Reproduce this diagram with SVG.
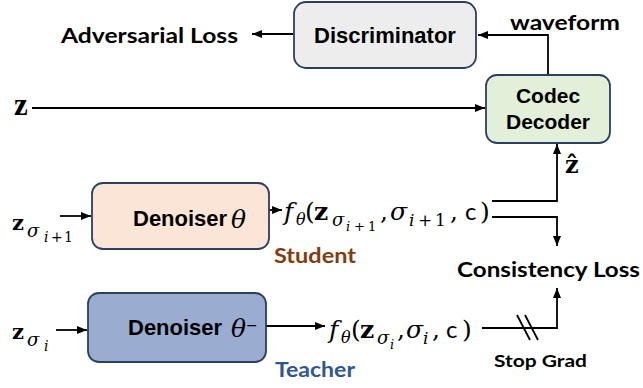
<svg xmlns="http://www.w3.org/2000/svg" width="643" height="388" viewBox="0 0 643 388">
<style>
.box{stroke:#2b3f63;stroke-width:1.8}
.lbl{font-family:"Liberation Sans",Arial,sans-serif;font-weight:bold;fill:#000}
.cal{font-family:Lato,"Open Sans",sans-serif;font-weight:bold;fill:#000}
.math{font-family:"DejaVu Serif","Liberation Serif",serif;fill:#000}
.sans{font-family:Lato,"Open Sans",sans-serif}
.it{font-style:italic}
.bf{font-weight:bold}
.wire{fill:none;stroke:#000;stroke-width:1.8}
.arr{marker-end:url(#ah)}
</style>
<defs>
<marker id="ah" viewBox="0 0 10 8" markerWidth="10" markerHeight="8" refX="10" refY="4" orient="auto" markerUnits="userSpaceOnUse">
<path d="M0,0 L10,4 L0,8 Z" fill="#000"/>
</marker>
</defs>
<rect width="643" height="388" fill="#fff"/>

<g id="connectors">
<path class="wire arr" d="M293 34 H252"/>
<path class="wire arr" d="M548 75 V35 H478"/>
<path class="wire arr" d="M32 108 H485"/>
<path class="wire arr" d="M60 216 H91"/>
<path class="wire arr" d="M269 210 H282"/>
<path class="wire arr" d="M492 201 H557 V144"/>
<path class="wire arr" d="M492 217 H557 V246"/>
<path class="wire arr" d="M56 330 H87"/>
<path class="wire arr" d="M266 326 H325"/>
<path class="wire arr" d="M482 328 H557 V288"/>
<path class="wire" d="M517 315 L530 340 M525 315 L538 340"/>
</g>

<g id="discriminator">
<rect class="box" x="294" y="2" width="182" height="66" rx="12" fill="#ededed"/>
<text class="lbl" x="385" y="43" font-size="22" text-anchor="middle">Discriminator</text>
</g>

<g id="adversarial-loss">
<text class="cal" x="61" y="43" font-size="20" textLength="177" lengthAdjust="spacingAndGlyphs">Adversarial Loss</text>
</g>

<g id="waveform-label">
<text class="cal" x="510" y="30" font-size="20" textLength="110" lengthAdjust="spacingAndGlyphs">waveform</text>
</g>

<g id="codec-decoder">
<rect class="box" x="486" y="75" width="124" height="68" rx="11" fill="#e2efd9"/>
<text class="lbl" x="548" y="103" font-size="21" text-anchor="middle">Codec</text>
<text class="lbl" x="548" y="129" font-size="21" text-anchor="middle">Decoder</text>
</g>

<g id="z-input">
<text class="bf" x="14" y="115" font-size="31" font-family="Liberation Serif, serif">z</text>
</g>

<g id="zhat-label">
<text class="math bf" x="565" y="173" font-size="24">ẑ</text>
</g>

<g id="student">
<rect class="box" x="92" y="183" width="177" height="66" rx="11" fill="#fbe5d6"/>
<text class="lbl" x="133" y="226" font-size="22">Denoiser</text>
<text class="math it" x="231" y="228" font-size="25">θ</text>
<text class="cal" x="274" y="263" font-size="20" style="fill:#843c0c" textLength="82" lengthAdjust="spacingAndGlyphs">Student</text>
</g>

<g id="student-input">
<text class="math"><tspan class="bf" x="12" y="230" font-size="21">z</tspan><tspan class="it" x="27" y="237" font-size="18">σ</tspan><tspan class="it" x="44" y="242" font-size="14">i</tspan><tspan x="51" y="242" font-size="14">+</tspan><tspan x="64" y="242" font-size="14">1</tspan></text>
</g>

<g id="student-output">
<text class="math" font-size="25"><tspan class="it" x="284" y="220">f</tspan><tspan class="it" x="296" y="225" font-size="16">θ</tspan><tspan x="305" y="220">(</tspan><tspan class="bf" x="314" y="220">z</tspan><tspan class="it" x="332" y="226" font-size="18">σ</tspan><tspan class="it" x="346" y="231" font-size="13">i</tspan><tspan x="354" y="231" font-size="13">+</tspan><tspan x="368" y="231" font-size="13">1</tspan><tspan x="380" y="220">,</tspan><tspan class="it" x="390" y="220">σ</tspan><tspan class="it" x="409" y="226" font-size="17">i</tspan><tspan x="418" y="226" font-size="17">+</tspan><tspan x="435" y="226" font-size="17">1</tspan><tspan x="450" y="220">,</tspan><tspan class="sans" x="465" y="220" font-size="24">c</tspan><tspan x="480" y="220">)</tspan></text>
</g>

<g id="consistency-loss">
<text class="cal" x="457" y="277" font-size="20" textLength="183" lengthAdjust="spacingAndGlyphs">Consistency Loss</text>
</g>

<g id="teacher">
<rect class="box" x="88" y="293" width="178" height="69" rx="11" fill="#9aadd1"/>
<text class="lbl" x="128" y="335" font-size="22">Denoiser</text>
<text class="math it" x="231" y="337" font-size="25">θ</text>
<text class="math" x="246" y="330" font-size="14">−</text>
<text class="cal" x="275" y="377" font-size="20" style="fill:#2f5597" textLength="80" lengthAdjust="spacingAndGlyphs">Teacher</text>
</g>

<g id="teacher-input">
<text class="math"><tspan class="bf" x="12" y="339" font-size="21">z</tspan><tspan class="it" x="27" y="346" font-size="18">σ</tspan><tspan class="it" x="44" y="351" font-size="14">i</tspan></text>
</g>

<g id="teacher-output">
<text class="math" font-size="25"><tspan class="it" x="329" y="338">f</tspan><tspan class="it" x="341" y="343" font-size="16">θ</tspan><tspan x="351" y="338">(</tspan><tspan class="bf" x="360" y="338">z</tspan><tspan class="it" x="377" y="344" font-size="18">σ</tspan><tspan class="it" x="390" y="349" font-size="13">i</tspan><tspan x="397" y="338">,</tspan><tspan class="it" x="406" y="338">σ</tspan><tspan class="it" x="423" y="344" font-size="17">i</tspan><tspan x="432" y="338">,</tspan><tspan class="sans" x="446" y="338" font-size="24">c</tspan><tspan x="462" y="338">)</tspan></text>
</g>

<g id="stop-grad">
<text class="cal" x="494" y="367" font-size="17" textLength="93" lengthAdjust="spacingAndGlyphs">Stop Grad</text>
</g>
</svg>
